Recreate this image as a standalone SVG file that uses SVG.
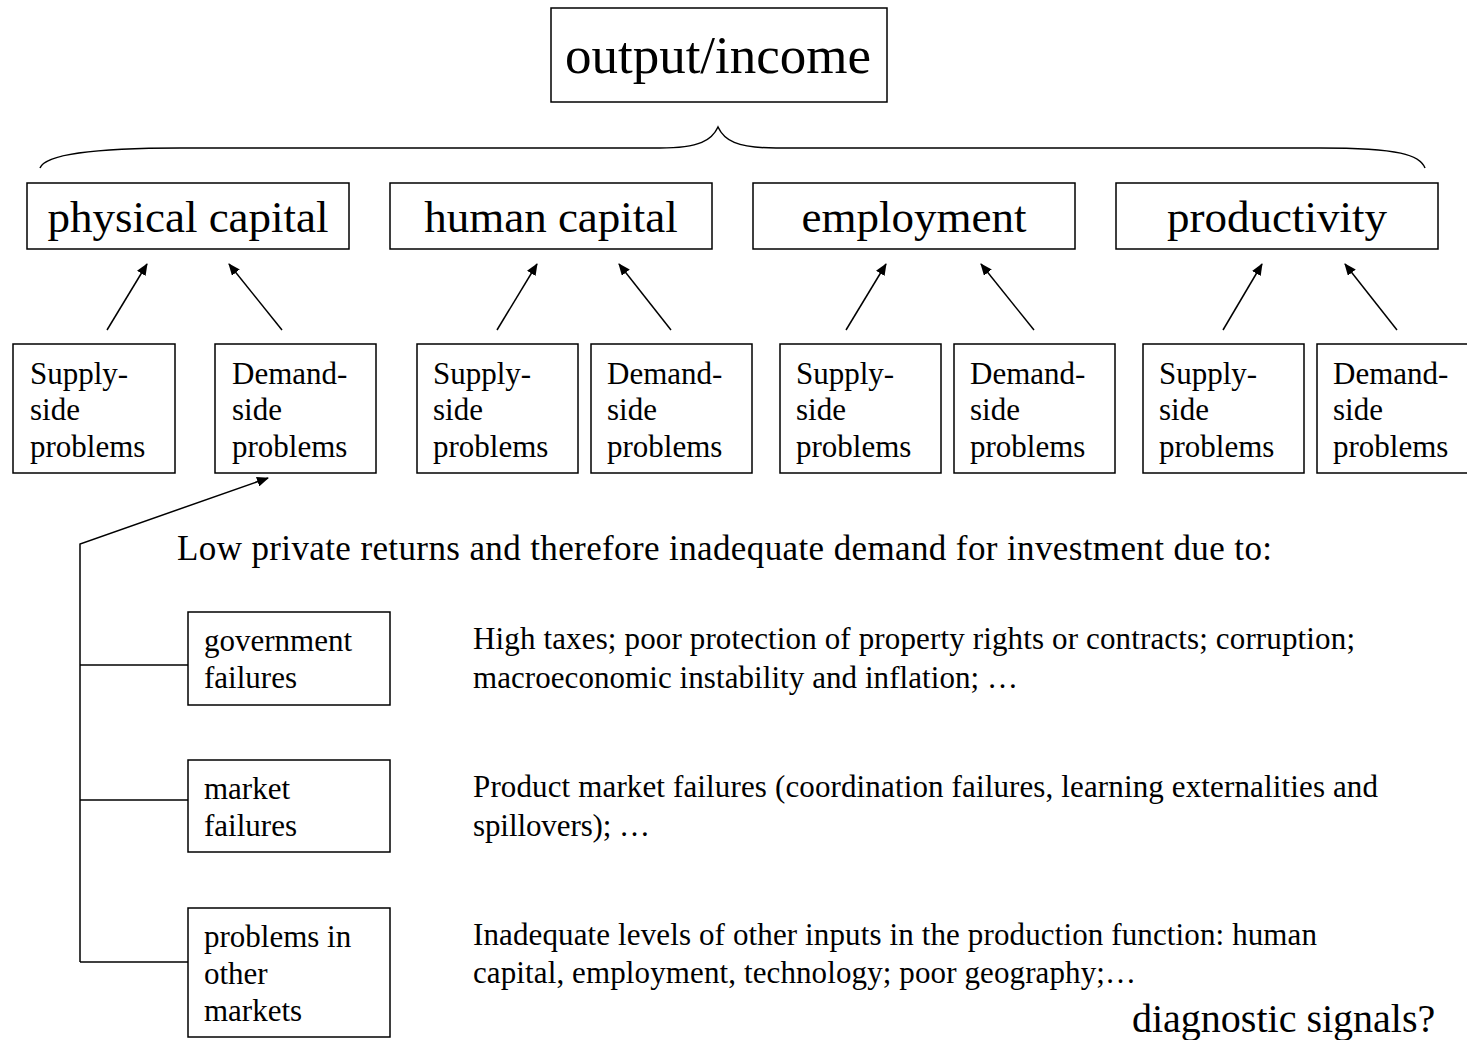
<svg xmlns="http://www.w3.org/2000/svg" width="1467" height="1040" viewBox="0 0 1467 1040">
<defs>
<marker id="ah" viewBox="0 0 12 10" refX="11" refY="5" markerWidth="12" markerHeight="10" markerUnits="userSpaceOnUse" orient="auto">
<path d="M0,0 L12,5 L0,10 z" fill="#000"/>
</marker>
<style>
text{font-family:"Liberation Serif","Times New Roman",serif;fill:#000}
rect{fill:#fff;stroke:#000;stroke-width:1.5}
.big{font-size:53px}
.cat{font-size:45px}
.sm{font-size:31px}
.mid{font-size:35px}
.ds{font-size:40px}
.c{stroke:#000;stroke-width:1.5;fill:none}
</style>
</defs>
<rect x="0" y="0" width="1467" height="1040" style="fill:#fff;stroke:none"/>
<g id="connectors">
<path class="c" d="M40,168 C45,155 90,148 180,148 L660,148 C700,148 712,140 718,127 C724,140 736,148 776,148 L1320,148 C1400,148 1420,155 1425,168"/>
<line class="c" x1="107" y1="330" x2="147" y2="264" marker-end="url(#ah)"/>
<line class="c" x1="282" y1="330" x2="229" y2="264" marker-end="url(#ah)"/>
<line class="c" x1="497" y1="330" x2="537" y2="264" marker-end="url(#ah)"/>
<line class="c" x1="671" y1="330" x2="619" y2="264" marker-end="url(#ah)"/>
<line class="c" x1="846" y1="330" x2="886" y2="264" marker-end="url(#ah)"/>
<line class="c" x1="1034" y1="330" x2="981" y2="264" marker-end="url(#ah)"/>
<line class="c" x1="1223" y1="330" x2="1262" y2="264" marker-end="url(#ah)"/>
<line class="c" x1="1397" y1="330" x2="1345" y2="264" marker-end="url(#ah)"/>
<polyline class="c" points="80,962 80,544 268,478" marker-end="url(#ah)"/>
<line class="c" x1="80" y1="665" x2="188" y2="665"/>
<line class="c" x1="80" y1="800" x2="188" y2="800"/>
<line class="c" x1="80" y1="962" x2="188" y2="962"/>
</g>
<g id="output-income"><rect x="551" y="8" width="336" height="94"/><text class="big" x="718" y="73" text-anchor="middle">output/income</text></g>
<g id="physical-capital"><rect x="27" y="183" width="322" height="66"/><text class="cat" x="188" y="232" text-anchor="middle">physical capital</text></g>
<g id="human-capital"><rect x="390" y="183" width="322" height="66"/><text class="cat" x="551" y="232" text-anchor="middle">human capital</text></g>
<g id="employment"><rect x="753" y="183" width="322" height="66"/><text class="cat" x="914" y="232" text-anchor="middle">employment</text></g>
<g id="productivity"><rect x="1116" y="183" width="322" height="66"/><text class="cat" x="1277" y="232" text-anchor="middle">productivity</text></g>
<g id="supply-1"><rect x="13" y="344" width="162" height="129"/><text class="sm" x="30" y="384">Supply-</text><text class="sm" x="30" y="420">side</text><text class="sm" x="30" y="457">problems</text></g>
<g id="demand-1"><rect x="215" y="344" width="161" height="129"/><text class="sm" x="232" y="384">Demand-</text><text class="sm" x="232" y="420">side</text><text class="sm" x="232" y="457">problems</text></g>
<g id="supply-2"><rect x="417" y="344" width="161" height="129"/><text class="sm" x="433" y="384">Supply-</text><text class="sm" x="433" y="420">side</text><text class="sm" x="433" y="457">problems</text></g>
<g id="demand-2"><rect x="591" y="344" width="161" height="129"/><text class="sm" x="607" y="384">Demand-</text><text class="sm" x="607" y="420">side</text><text class="sm" x="607" y="457">problems</text></g>
<g id="supply-3"><rect x="780" y="344" width="161" height="129"/><text class="sm" x="796" y="384">Supply-</text><text class="sm" x="796" y="420">side</text><text class="sm" x="796" y="457">problems</text></g>
<g id="demand-3"><rect x="954" y="344" width="161" height="129"/><text class="sm" x="970" y="384">Demand-</text><text class="sm" x="970" y="420">side</text><text class="sm" x="970" y="457">problems</text></g>
<g id="supply-4"><rect x="1143" y="344" width="161" height="129"/><text class="sm" x="1159" y="384">Supply-</text><text class="sm" x="1159" y="420">side</text><text class="sm" x="1159" y="457">problems</text></g>
<g id="demand-4"><rect x="1317" y="344" width="161" height="129"/><text class="sm" x="1333" y="384">Demand-</text><text class="sm" x="1333" y="420">side</text><text class="sm" x="1333" y="457">problems</text></g>
<g id="heading"><text class="mid" x="177" y="560" textLength="1095" lengthAdjust="spacing">Low private returns and therefore inadequate demand for investment due to:</text></g>
<g id="government-failures"><rect x="188" y="612" width="202" height="93"/><text class="sm" x="204" y="651">government</text><text class="sm" x="204" y="688">failures</text></g>
<g id="market-failures"><rect x="188" y="760" width="202" height="92"/><text class="sm" x="204" y="799">market</text><text class="sm" x="204" y="836">failures</text></g>
<g id="problems-other"><rect x="188" y="908" width="202" height="129"/><text class="sm" x="204" y="947">problems in</text><text class="sm" x="204" y="984">other</text><text class="sm" x="204" y="1021">markets</text></g>
<g id="desc-1"><text class="sm" x="473" y="649" textLength="882" lengthAdjust="spacing">High taxes; poor protection of property rights or contracts; corruption;</text><text class="sm" x="473" y="688" textLength="545" lengthAdjust="spacing">macroeconomic instability and inflation; …</text></g>
<g id="desc-2"><text class="sm" x="473" y="797" textLength="905" lengthAdjust="spacing">Product market failures (coordination failures, learning externalities and</text><text class="sm" x="473" y="836" textLength="177" lengthAdjust="spacing">spillovers); …</text></g>
<g id="desc-3"><text class="sm" x="473" y="945" textLength="844" lengthAdjust="spacing">Inadequate levels of other inputs in the production function: human</text><text class="sm" x="473" y="983" textLength="663" lengthAdjust="spacing">capital, employment, technology; poor geography;…</text></g>
<g id="diagnostic"><text class="ds" x="1132" y="1032">diagnostic signals?</text></g>
</svg>
